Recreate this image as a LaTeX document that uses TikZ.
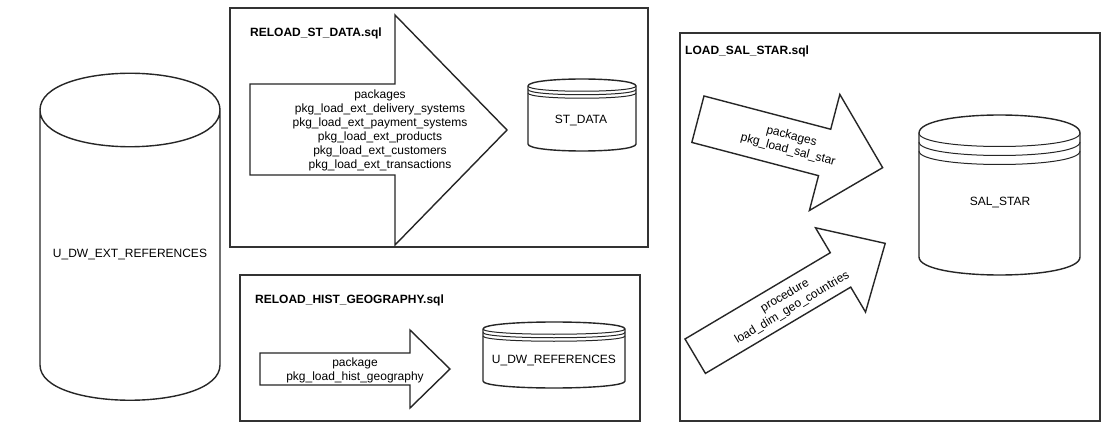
\documentclass[tikz,border=0pt]{standalone}
\usepackage{fontspec}
\setmainfont{Liberation Sans}
\begin{document}
\begin{tikzpicture}[x=1pt,y=-1pt,
  box/.style={draw=black!80, line width=2pt},
  shp/.style={draw=black!85, line width=1.4pt, line join=miter},
  inner/.style={draw=black!85, line width=1pt},
  lbl/.style={font=\fontsize{12}{14}\selectfont, inner sep=0pt, align=center},
  ttl/.style={font=\fontsize{12}{14}\selectfont\bfseries, inner sep=0pt, anchor=west}]
\useasboundingbox (0,0) rectangle (1120,441);
\fill[white] (0,0) rectangle (1120,441);
% datastore macro: x, y, w, h, dy
\newcommand{\dstore}[5]{%
  \draw[shp] ({#1},{#2+#5}) .. controls ({#1},{#2-#5/3}) and ({#1+#3},{#2-#5/3}) .. ({#1+#3},{#2+#5})
     -- ({#1+#3},{#2+#4-#5}) .. controls ({#1+#3},{#2+#4+#5/3}) and ({#1},{#2+#4+#5/3}) .. ({#1},{#2+#4-#5}) -- cycle;
  \draw[inner] ({#1},{#2+#5}) .. controls ({#1},{#2+2*#5}) and ({#1+#3},{#2+2*#5}) .. ({#1+#3},{#2+#5});
  \draw[inner] ({#1},{#2+1.5*#5}) .. controls ({#1},{#2+2.5*#5}) and ({#1+#3},{#2+2.5*#5}) .. ({#1+#3},{#2+1.5*#5});
  \draw[inner] ({#1},{#2+2*#5}) .. controls ({#1},{#2+3*#5}) and ({#1+#3},{#2+3*#5}) .. ({#1+#3},{#2+2*#5});
}
% left cylinder
\draw[shp] (40,110) .. controls (40,61) and (220,61) .. (220,110)
   .. controls (220,159) and (40,159) .. (40,110) -- (40,365)
   .. controls (40,412) and (220,412) .. (220,365) -- (220,110);
\node[lbl] (uext) at (130,255) {U\_DW\_EXT\_REFERENCES};

% box 1
\draw[box] (230,8) rectangle (648,247);
\node[ttl] (t1) at (250,33) {RELOAD\_ST\_DATA.sql};
\draw[shp] (250,84) -- (395,84) -- (395,15) -- (507,130) -- (395,245) -- (395,175) -- (250,175) -- cycle;
\node[lbl] (a1) at (380,130) {packages\\pkg\_load\_ext\_delivery\_systems\\pkg\_load\_ext\_payment\_systems\\pkg\_load\_ext\_products\\pkg\_load\_ext\_customers\\pkg\_load\_ext\_transactions};
\dstore{528}{79}{108}{72}{7}
\node[lbl] (st) at (581,121) {ST\_DATA};

% box 2
\draw[box] (240,275) rectangle (640,421);
\node[ttl] (t2) at (255,300) {RELOAD\_HIST\_GEOGRAPHY.sql};
\draw[shp] (260,353) -- (410,353) -- (410,330) -- (450,369) -- (410,408) -- (410,385) -- (260,385) -- cycle;
\node[lbl] (a2) at (355,370) {package\\pkg\_load\_hist\_geography};
\dstore{483}{322}{142}{66}{7}
\node[lbl] (udw) at (554,361) {U\_DW\_REFERENCES};

% box 3
\draw[box] (680,33) rectangle (1100,421);
\node[ttl] (t3) at (685,51) {LOAD\_SAL\_STAR.sql};
\begin{scope}[shift={(704,96)}, rotate=-14.7]
  \draw[shp] (0,0) -- (131,0) -- (131,-36) -- (191,24) -- (131,84) -- (131,48) -- (0,48) -- cycle;
  \node[lbl, transform shape] (a3) at (95,24) {packages\\pkg\_load\_sal\_star};
\end{scope}
\begin{scope}[shift={(685,339)}, rotate=30.7]
  \draw[shp] (0,0) -- (169,0) -- (169,-29) -- (221,20) -- (169,69) -- (169,40) -- (0,40) -- cycle;
  \node[lbl, transform shape] (a4) at (108,21) {procedure\\load\_dim\_geo\_countries};
\end{scope}
\dstore{919}{115}{161}{160}{18}
\node[lbl] (sal) at (1000,203) {SAL\_STAR};
\end{tikzpicture}
\end{document}
